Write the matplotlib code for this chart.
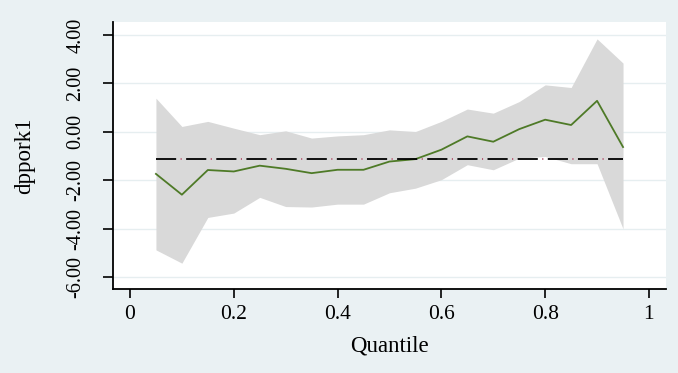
import matplotlib
matplotlib.use("Agg")
import matplotlib.pyplot as plt

quantiles = [0.05, 0.10, 0.15, 0.20, 0.25, 0.30, 0.35, 0.40, 0.45, 0.50,
             0.55, 0.60, 0.65, 0.70, 0.75, 0.80, 0.85, 0.90, 0.95]
coef = [-1.74, -2.60, -1.58, -1.64, -1.40, -1.53, -1.71, -1.57, -1.57, -1.23,
        -1.13, -0.74, -0.19, -0.41, 0.11, 0.50, 0.28, 1.28, -0.63]
upper = [1.39, 0.22, 0.43, 0.15, -0.12, 0.04, -0.26, -0.17, -0.12, 0.08,
         0.01, 0.43, 0.94, 0.77, 1.25, 1.94, 1.83, 3.84, 2.84]
lower = [-4.88, -5.43, -3.54, -3.36, -2.71, -3.09, -3.11, -2.99, -2.99, -2.52,
         -2.33, -1.98, -1.36, -1.57, -1.09, -1.02, -1.32, -1.32, -4.01]
ols_coef = -1.13
yticks = [-6, -4, -2, 0, 2, 4]
xticks = [0, 0.2, 0.4, 0.6, 0.8, 1]
xticklabels = ["0", "0.2", "0.4", "0.6", "0.8", "1"]

plt.rcParams['font.family'] = ['Liberation Serif', 'DejaVu Serif']
plt.rcParams['axes.unicode_minus'] = False
plt.rcParams['lines.scale_dashes'] = False

BG = '#EAF1F3'
fig = plt.figure(figsize=(6.78, 3.73), dpi=100, facecolor=BG)
ax = fig.add_axes([112.7/678, 1-289.3/373, (666-112.7)/678, (289.3-21.7)/373])
ax.set_facecolor('white')

ax.fill_between(quantiles, lower, upper, color='#D9D9D9', linewidth=0, zorder=2)
ax.plot(quantiles, coef, color='#4E7A27', linewidth=1.3, zorder=3)
xs = [quantiles[0], quantiles[-1]]
ax.plot(xs, [ols_coef, ols_coef], color='black', linewidth=1.3,
        linestyle=(0, (14.5, 7.2)), zorder=4, dash_capstyle='butt')
ax.plot(xs, [ols_coef, ols_coef], color='#B0506A', linewidth=1.3,
        linestyle=(-14.5 - 3.2, (0.8, 20.9)), zorder=4, dash_capstyle='butt')

ax.set_xlim(-0.0333, 1.0328)
ax.set_ylim(-6.51, 4.55)
ax.set_yticks(yticks)
ax.set_yticklabels(["%.2f" % v for v in yticks])
ax.set_xticks(xticks)
ax.set_xticklabels(xticklabels)

ax.yaxis.grid(True, color='#E6EEF0', linewidth=1.0, zorder=1)
ax.set_axisbelow(True)

for s in ['top', 'right']:
    ax.spines[s].set_visible(False)
for s in ['left', 'bottom']:
    ax.spines[s].set_linewidth(1.3)
    ax.spines[s].set_color('black')

ax.tick_params(axis='y', direction='out', length=7.5, width=1.2, labelsize=14.5,
               labelrotation=90, pad=12)
ax.tick_params(axis='x', direction='out', length=6.5, width=1.2, labelsize=15.5, pad=5)
for lab in ax.get_yticklabels():
    lab.set_va('center')

ax.set_xlabel('Quantile', fontsize=16.5, labelpad=8)
ax.set_ylabel('dppork1', fontsize=16.5, labelpad=23)

fig.savefig('out.png', dpi=100, facecolor=BG)
